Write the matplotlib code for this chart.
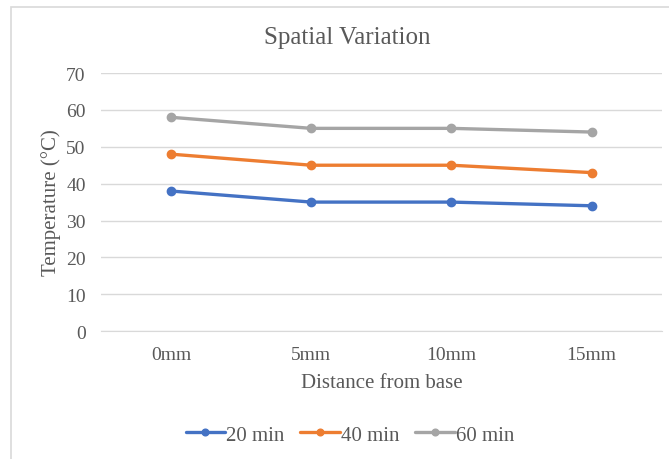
import matplotlib
matplotlib.use("Agg")
import matplotlib.pyplot as plt
from matplotlib.patches import Rectangle

# temperature readings along the fin, one series per elapsed time
positions = ["0mm", "5mm", "10mm", "15mm"]
t20 = [38, 35, 35, 34]
t40 = [48, 45, 45, 43]
t60 = [58, 55, 55, 54]
series_names = ["20 min", "40 min", "60 min"]
series_colors = ["#4472C4", "#ED7D31", "#A5A5A5"]

TXT = "#595959"
plt.rcParams["font.family"] = ["Liberation Serif", "DejaVu Serif"]

fig = plt.figure(figsize=(6.69, 4.60), dpi=100)
ax = fig.add_axes([0.151, 0.278, 0.838, 0.561])

# chart-area frame
fig.patches.append(Rectangle((11 / 669, -0.05), 1.0, 1 - 8 / 460 + 0.05,
                             transform=fig.transFigure, fill=False,
                             edgecolor="#d9d9d9", linewidth=1.2))

x = range(len(positions))
for vals, name, col in zip([t20, t40, t60], series_names, series_colors):
    ax.plot(x, vals, color=col, lw=2.4, marker="o", ms=6, label=name,
            solid_capstyle="round")

ax.set_xlim(-0.5, len(positions) - 0.5)
ax.set_ylim(0, 70)
ax.set_yticks(range(0, 71, 10))
ax.set_xticks(list(x))
ax.set_xticklabels(positions)
ax.yaxis.grid(True, color="#d9d9d9", lw=1.0)
ax.set_axisbelow(True)
for s in ["top", "right", "left"]:
    ax.spines[s].set_visible(False)
ax.spines["bottom"].set_color("#d9d9d9")
ax.tick_params(length=0, labelsize=14, colors=TXT, pad=11)

fig.text(0.519, 1 - 38 / 460, "Spatial Variation", fontsize=18, color=TXT,
         ha="center", va="center")
ax.set_xlabel("Distance from base", fontsize=15, color=TXT, labelpad=7)
ax.set_ylabel("Temperature (°C)", fontsize=15, color=TXT, labelpad=4)

fig.legend(loc="center", bbox_to_anchor=(0.523, 1 - 436 / 460), ncol=3,
           frameon=False, fontsize=15, labelcolor=TXT, handlelength=1.9,
           handletextpad=0.05, columnspacing=0.75, markerscale=0.8)

fig.savefig("out.png", dpi=100)
